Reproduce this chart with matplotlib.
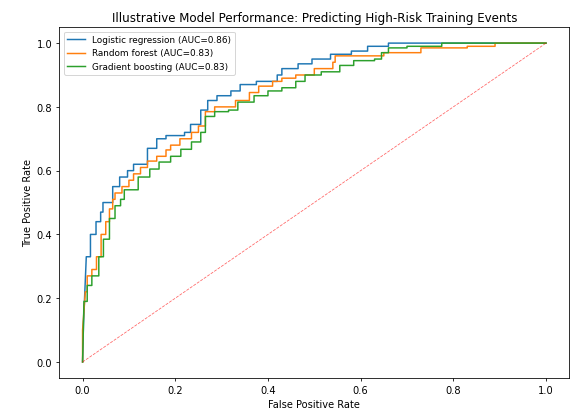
import matplotlib
matplotlib.use("Agg")
import matplotlib.pyplot as plt

# ROC staircase vertices (false positive rate, true positive rate) per model
lr_fpr = [0.0, 0.002, 0.008, 0.017, 0.017, 0.029, 0.029, 0.039, 0.039, 0.044, 0.044, 0.065, 0.065,
          0.08, 0.08, 0.097, 0.097, 0.11, 0.11, 0.14, 0.14, 0.16, 0.16, 0.18, 0.18, 0.22, 0.22,
          0.233, 0.233, 0.255, 0.255, 0.27, 0.27, 0.29, 0.29, 0.32, 0.32, 0.34, 0.34, 0.375, 0.375,
          0.42, 0.42, 0.43, 0.43, 0.465, 0.465, 0.495, 0.495, 0.535, 0.535, 0.58, 0.58, 0.615, 0.615,
          0.66, 0.66, 1.0]
lr_tpr = [0.0, 0.12, 0.33, 0.33, 0.40, 0.40, 0.44, 0.44, 0.47, 0.47, 0.50, 0.50, 0.55,
          0.55, 0.58, 0.58, 0.60, 0.60, 0.62, 0.62, 0.67, 0.67, 0.70, 0.70, 0.71, 0.71, 0.72,
          0.72, 0.745, 0.745, 0.79, 0.79, 0.82, 0.82, 0.835, 0.835, 0.85, 0.85, 0.87, 0.87, 0.88,
          0.88, 0.90, 0.90, 0.92, 0.92, 0.935, 0.935, 0.95, 0.95, 0.965, 0.965, 0.975, 0.975, 0.99,
          0.99, 1.0, 1.0]

rf_fpr = [0.0, 0.0, 0.006, 0.01, 0.01, 0.02, 0.02, 0.03, 0.03, 0.04, 0.04, 0.05, 0.05, 0.058,
          0.058, 0.065, 0.065, 0.07, 0.07, 0.085, 0.085, 0.1, 0.1, 0.11, 0.11, 0.125, 0.125, 0.14,
          0.14, 0.16, 0.16, 0.18, 0.18, 0.19, 0.19, 0.21, 0.21, 0.235, 0.235, 0.25, 0.25, 0.265,
          0.265, 0.285, 0.285, 0.33, 0.33, 0.36, 0.36, 0.38, 0.38, 0.41, 0.41, 0.43, 0.43, 0.46,
          0.46, 0.5, 0.5, 0.54, 0.54, 0.545, 0.545, 0.65, 0.65, 0.73, 0.73, 0.83, 0.83, 0.89, 0.89,
          1.0]
rf_tpr = [0.0, 0.10, 0.22, 0.22, 0.27, 0.27, 0.29, 0.29, 0.33, 0.33, 0.40, 0.40, 0.44, 0.44,
          0.48, 0.48, 0.51, 0.51, 0.53, 0.53, 0.55, 0.55, 0.57, 0.57, 0.59, 0.59, 0.61, 0.61,
          0.63, 0.63, 0.645, 0.645, 0.665, 0.665, 0.68, 0.68, 0.70, 0.70, 0.72, 0.72, 0.74, 0.74,
          0.785, 0.785, 0.80, 0.80, 0.82, 0.82, 0.845, 0.845, 0.865, 0.865, 0.88, 0.88, 0.89, 0.89,
          0.90, 0.90, 0.92, 0.92, 0.94, 0.94, 0.96, 0.96, 0.97, 0.97, 0.985, 0.985, 0.99, 0.99, 1.0,
          1.0]

gb_fpr = [0.0, 0.003, 0.01, 0.01, 0.02, 0.02, 0.035, 0.035, 0.045, 0.045, 0.058, 0.058, 0.07,
          0.07, 0.082, 0.082, 0.09, 0.09, 0.12, 0.12, 0.145, 0.145, 0.165, 0.165, 0.19, 0.19,
          0.212, 0.212, 0.235, 0.235, 0.255, 0.255, 0.265, 0.265, 0.285, 0.285, 0.315, 0.315,
          0.335, 0.335, 0.37, 0.37, 0.40, 0.40, 0.43, 0.43, 0.46, 0.46, 0.48, 0.48, 0.515, 0.515,
          0.555, 0.555, 0.585, 0.585, 0.63, 0.63, 0.645, 0.645, 0.66, 0.66, 0.70, 0.70, 0.775,
          0.775, 1.0]
gb_tpr = [0.0, 0.19, 0.19, 0.24, 0.24, 0.27, 0.27, 0.33, 0.33, 0.385, 0.385, 0.45, 0.45,
          0.49, 0.49, 0.51, 0.51, 0.54, 0.54, 0.58, 0.58, 0.605, 0.605, 0.627, 0.627, 0.645,
          0.645, 0.667, 0.667, 0.69, 0.69, 0.72, 0.72, 0.77, 0.77, 0.785, 0.785, 0.79,
          0.79, 0.815, 0.815, 0.835, 0.835, 0.85, 0.85, 0.86, 0.86, 0.88, 0.88, 0.90, 0.90, 0.91,
          0.91, 0.93, 0.93, 0.945, 0.945, 0.95, 0.95, 0.97, 0.97, 0.985, 0.985, 0.99, 0.99,
          1.0, 1.0]

labels = ["Logistic regression (AUC=0.86)",
          "Random forest (AUC=0.83)",
          "Gradient boosting (AUC=0.83)"]

fig, ax = plt.subplots(figsize=(8, 5.81), dpi=71.4)
fig.subplots_adjust(left=0.104, right=0.9965, bottom=0.087, top=0.9325)

ax.plot(lr_fpr, lr_tpr, label=labels[0])
ax.plot(rf_fpr, rf_tpr, label=labels[1])
ax.plot(gb_fpr, gb_tpr, label=labels[2])
# chance line
ax.plot([0, 1], [0, 1], color="red", linestyle="--", linewidth=0.8, alpha=0.6)

ax.set_xlabel("False Positive Rate")
ax.set_ylabel("True Positive Rate")
ax.set_title("Illustrative Model Performance: Predicting High-Risk Training Events")
ax.legend(loc="upper left", fontsize=9)

plt.savefig("out.png", dpi=71.4)
